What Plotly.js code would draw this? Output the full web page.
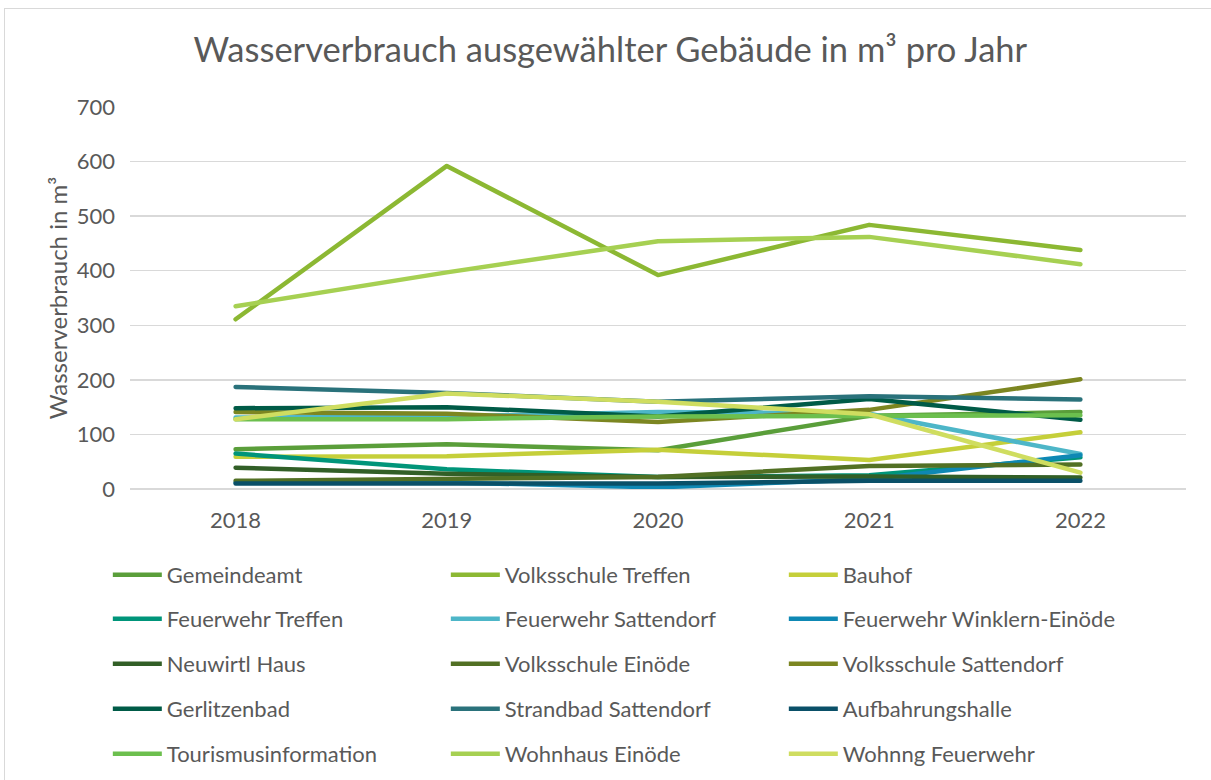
<!DOCTYPE html>
<html>
<head>
<meta charset="utf-8">
<script src="https://cdn.plot.ly/plotly-3.0.1.min.js"></script>
<style>
  html, body { margin: 0; padding: 0; background: #fff; }
  #chart { position: absolute; left: 0; top: 0; width: 1211px; height: 780px; }
  #frame { position: absolute; left: 4px; top: 8px; width: 1230px; height: 800px; border: 1.5px solid #d9d9d9; pointer-events: none; }
  #chart .scatterlayer path.js-line { stroke-linecap: round; stroke-linejoin: round; }
</style>
</head>
<body>
<div id="chart"></div>
<div id="frame"></div>
<script>
const years = ['2018', '2019', '2020', '2021', '2022'];

const gemeindeamt = [73, 82, 71, 134, 141];
const volksschuleTreffen = [311, 592, 392, 484, 438];
const bauhof = [59, 60, 72, 53, 104];
const feuerwehrTreffen = [65, 36, 22, 25, 58];
const feuerwehrSattendorf = [131, 133, 141, 138, 64];
const feuerwehrWinklern = [12, 12, 3, 18, 62];
const neuwirtlHaus = [39, 28, 22, 23, 21];
const volksschuleEinoede = [15, 18, 22, 42, 45];
const volksschuleSattendorf = [141, 138, 123, 145, 201];
const gerlitzenbad = [148, 150, 133, 165, 127];
const strandbadSattendorf = [187, 176, 160, 170, 164];
const aufbahrungshalle = [10, 10, 10, 15, 15];
const tourismusinformation = [128, 128, 133, 135, 135];
const wohnhausEinoede = [335, 397, 454, 462, 412];
const wohnngFeuerwehr = [128, 175, 160, 137, 30];

const seriesNames = ['Gemeindeamt', 'Volksschule Treffen', 'Bauhof', 'Feuerwehr Treffen', 'Feuerwehr Sattendorf',
  'Feuerwehr Winklern-Einöde', 'Neuwirtl Haus', 'Volksschule Einöde', 'Volksschule Sattendorf', 'Gerlitzenbad',
  'Strandbad Sattendorf', 'Aufbahrungshalle', 'Tourismusinformation', 'Wohnhaus Einöde', 'Wohnng Feuerwehr'];
const seriesValues = [gemeindeamt, volksschuleTreffen, bauhof, feuerwehrTreffen, feuerwehrSattendorf,
  feuerwehrWinklern, neuwirtlHaus, volksschuleEinoede, volksschuleSattendorf, gerlitzenbad,
  strandbadSattendorf, aufbahrungshalle, tourismusinformation, wohnhausEinoede, wohnngFeuerwehr];
const seriesColors = ['#5a9e3a', '#8cb833', '#c5cf3a', '#00957a', '#4db6c8',
  '#0e88b4', '#325f27', '#527024', '#7c8621', '#005b47',
  '#2a727b', '#0a5068', '#6cbf4e', '#a6d052', '#cfdd60'];

const font = 'Lato, "Open Sans", "Noto Sans", sans-serif';
const grey = '#595959';

const legendIds = ['legend', 'legend2', 'legend3', 'legend4', 'legend5'];

const traces = seriesNames.map((n, i) => ({
  type: 'scatter', mode: 'lines', name: n,
  x: years, y: seriesValues[i],
  legend: legendIds[Math.floor(i / 3)],
  line: { color: seriesColors[i], width: 4.5 }
}));

const rowCenters = [575, 619, 664, 709, 754];
const plotTop = 107, plotBottom = 489;

const layout = {
  width: 1211, height: 780,
  margin: { l: 130, r: 25, t: plotTop, b: 780 - plotBottom, autoexpand: false },
  paper_bgcolor: '#fff', plot_bgcolor: '#fff',
  font: { family: font, color: grey, size: 22 },
  title: {
    text: 'Wasserverbrauch ausgewählter Gebäude in m³ pro Jahr',
    font: { family: font, size: 34.5, color: grey },
    x: 0.504, xanchor: 'center', y: 1 - 50 / 780, yanchor: 'middle', yref: 'container'
  },
  xaxis: {
    type: 'category', range: [-0.5, 4.5],
    showgrid: false, zeroline: false, showline: false,
    ticks: '', ticklabelstandoff: 16,
    tickfont: { family: font, size: 22, color: grey }
  },
  yaxis: {
    range: [0, 700], dtick: 100,
    showgrid: true, gridcolor: '#d9d9d9', gridwidth: 1.5,
    zeroline: true, zerolinecolor: '#d9d9d9', zerolinewidth: 1.5,
    showline: false, ticks: '', ticklabelstandoff: 14,
    tickfont: { family: font, size: 22, color: grey },
    title: { text: 'Wasserverbrauch in m³', font: { family: font, size: 24, color: grey }, standoff: 2 }
  },
  showlegend: true
};

rowCenters.forEach((yc, r) => {
  layout[legendIds[r]] = {
    orientation: 'h', x: -0.021, xanchor: 'left',
    y: (plotBottom - yc) / (plotBottom - plotTop), yanchor: 'middle',
    entrywidth: 274, entrywidthmode: 'pixels',
    font: { family: font, size: 22, color: grey },
    itemwidth: 49, traceorder: 'normal', bgcolor: 'rgba(0,0,0,0)'
  };
});

Plotly.newPlot('chart', traces, layout, { displayModeBar: false, staticPlot: true });
</script>
</body>
</html>
